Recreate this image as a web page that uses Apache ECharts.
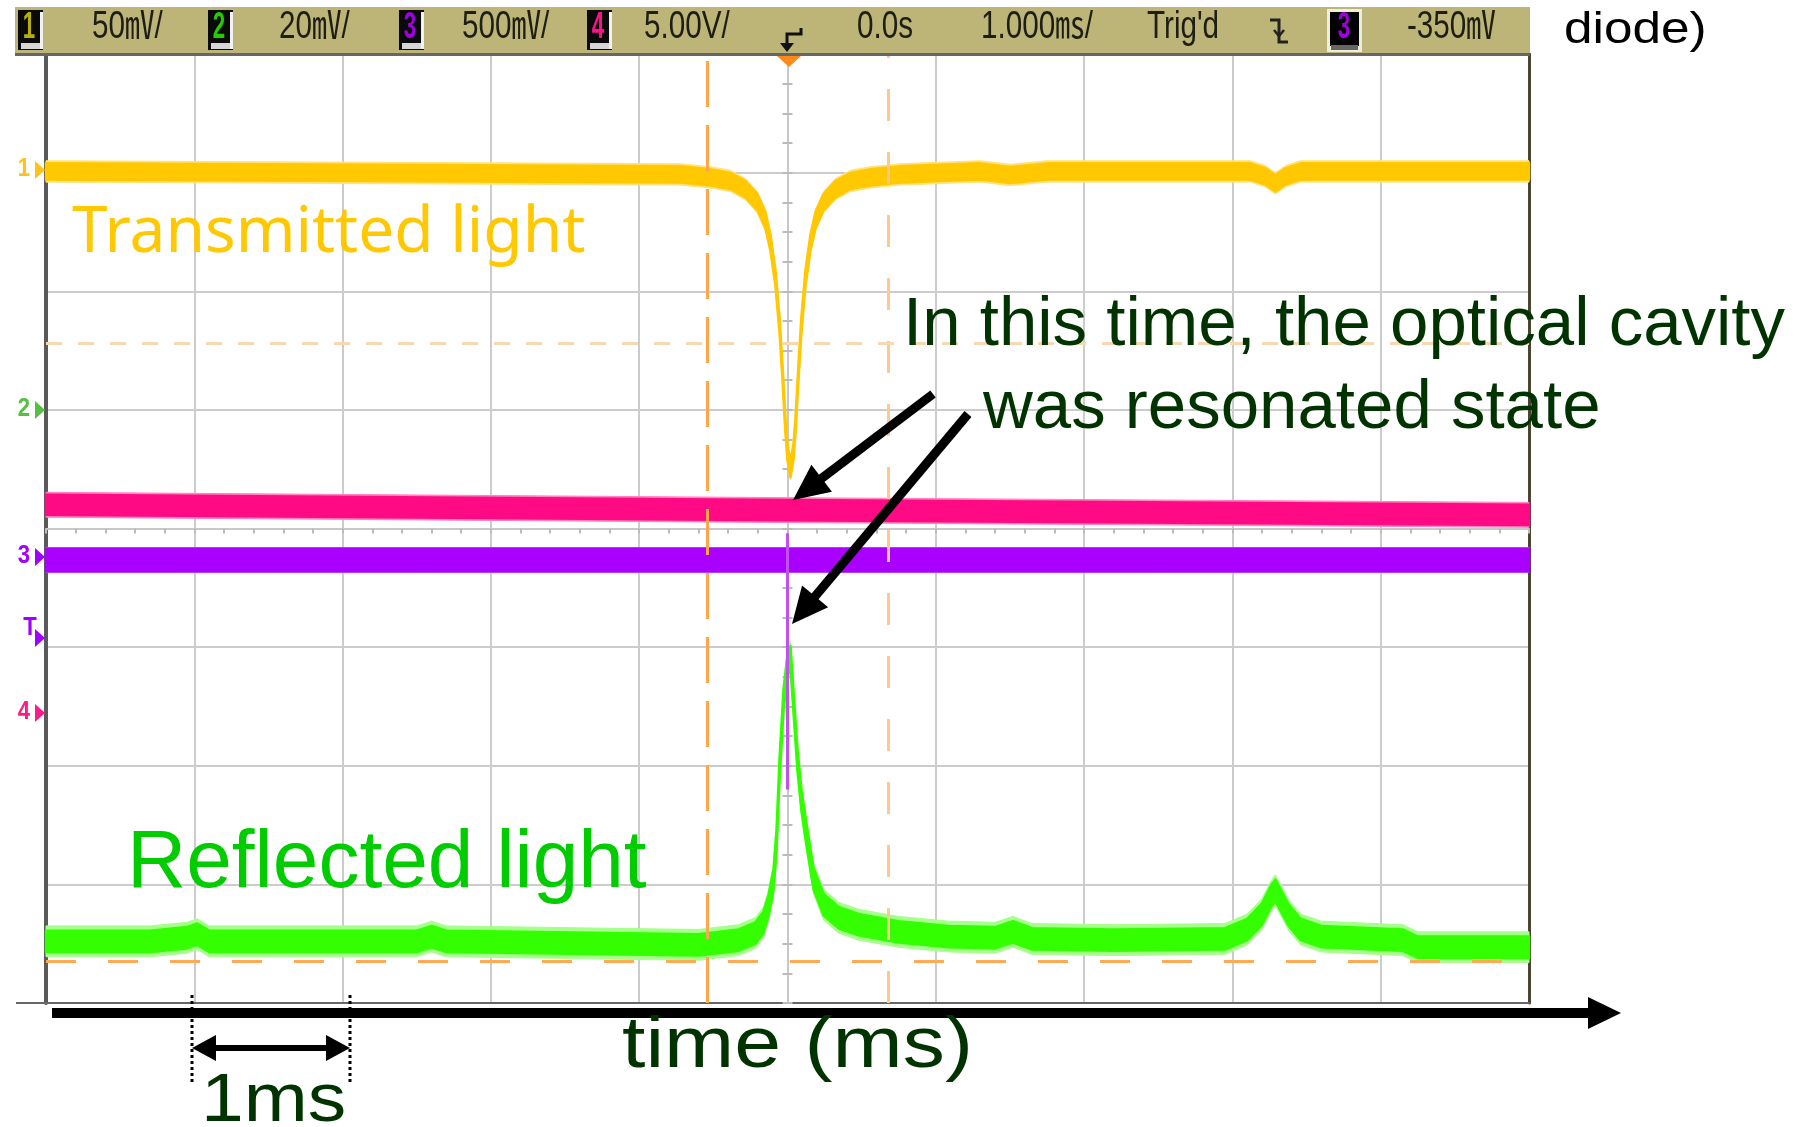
<!DOCTYPE html>
<html><head><meta charset="utf-8">
<script src="https://cdn.jsdelivr.net/npm/echarts@6/dist/echarts.min.js"></script>
<style>html,body{margin:0;padding:0;background:#fff}#c{width:1809px;height:1127px}</style>
</head><body><div id="c"></div>
<script>
// ---------------- data (time in ms, level in screen divisions) ----------------
const ch1Time = [-5, -0.72, -0.52, -0.385, -0.283, -0.203, -0.149, -0.115, -0.081, -0.054, -0.034, -0.014, 0, 0.02,
  0.04, 0.054, 0.074, 0.094, 0.121, 0.155, 0.189, 0.243, 0.323, 0.425, 0.56, 0.76,
  1.3, 1.5, 1.75, 3.12, 3.22, 3.29, 3.36, 3.46, 5];
const ch1Level = [3.01, 2.985, 2.96, 2.93, 2.86, 2.75, 2.60, 2.41, 2.11, 1.72, 1.32, 0.87, 0.64, 0.50,
  0.64, 0.87, 1.32, 1.72, 2.11, 2.41, 2.60, 2.75, 2.86, 2.93, 2.96, 2.985,
  3.01, 2.98, 3.01, 3.01, 2.97, 2.91, 2.97, 3.01, 3.01];

const ch2Time = [-5, -4.3, -4.05, -3.98, -3.9, -2.5, -2.4, -2.3, -1.2, -0.6, -0.33, -0.216, -0.162, -0.128, -0.094,
  -0.074, -0.054, -0.027, 0.0, 0.02, 0.04, 0.067, 0.094, 0.128, 0.175, 0.243, 0.344, 0.479, 0.749, 1.086,
  1.4, 1.52, 1.65, 2.2, 2.95, 3.1, 3.2, 3.26, 3.29, 3.32, 3.38, 3.46, 3.6, 4.15, 4.25, 5];
const ch2Level = [-3.48, -3.48, -3.45, -3.42, -3.48, -3.48, -3.44, -3.48, -3.50, -3.51, -3.47, -3.41, -3.32, -3.18, -2.96,
  -2.63, -2.04, -1.45, -1.15, -1.08, -1.45, -1.95, -2.29, -2.58, -2.95, -3.17, -3.28, -3.34, -3.40, -3.44,
  -3.45, -3.40, -3.46, -3.47, -3.46, -3.38, -3.25, -3.10, -3.05, -3.12, -3.26, -3.38, -3.44, -3.47, -3.53, -3.53];

const ch3Time = [-5, 5];
const ch3Level = [-0.265, -0.265];
const ch3SpikeTime = [0, 0];
const ch3SpikeLevel = [-0.04, -2.2];

const ch4Time = [-5, 0, 5];
const ch4Level = [0.20, 0.155, 0.115];

const noiseHalf = {ch1: [0.068, 0.09], ch2: [0.09, 0.13], ch3: [0.095, 0.105], ch4: [0.085, 0.105]};

const cursorTimes = [-0.537, 0.676];
const cursorLevels = [1.564, -3.647];

const statusLabels = ['50㎷/', '20㎷/', '500㎷/', '5.00V/', '0.0s', '1.000㎳/', "Trig'd", '-350㎷'];
const channelLabels = ['1', '2', '3', '4'];
const markerLabels = ['1', '2', '3', 'T', '4'];

// ---------------- helpers ----------------
const chart = echarts.init(document.getElementById('c'), null, {renderer: 'canvas'});

function bandRender(T, V, half, coreColor, fringeColor) {
  return function (params, api) {
    if (params.dataIndex !== 0) return null;
    const poly = (h) => T.map((t, i) => api.coord([t, V[i] + h]))
      .concat(T.map((t, i) => api.coord([t, V[i] - h])).reverse());
    return {
      type: 'group',
      children: [
        {type: 'polygon', shape: {points: poly(half[1])}, style: {fill: fringeColor, stroke: fringeColor, lineWidth: 1}},
        {type: 'polygon', shape: {points: poly(half[0])}, style: {fill: coreColor, stroke: coreColor, lineWidth: 2.5, lineJoin: 'round'}}
      ]
    };
  };
}
function band(name, T, V, half, core, fringe, z) {
  return {
    type: 'custom', name, z, xAxisIndex: 0, yAxisIndex: 0,
    data: T.map((t, i) => [t, V[i]]), encode: {x: 0, y: 1},
    renderItem: bandRender(T, V, half, core, fringe), silent: true
  };
}

const AR = '"Liberation Sans", Arial, "Noto Sans CJK SC", sans-serif';
function txt(s, x, y, font, fill, scaleX, align) {
  return {type: 'text', x, y, scaleX: scaleX || 1, z: 100,
    style: {text: s, x: 0, y: 0, font, fill, align: align || 'left', textAlign: align || 'left',
      verticalAlign: 'middle', textVerticalAlign: 'middle'}};
}
function arrow(x1, y1, x2, y2, w, hl, hh) {
  const dx = x2 - x1, dy = y2 - y1, L = Math.hypot(dx, dy), ux = dx / L, uy = dy / L;
  const bx = x2 - ux * hl, by = y2 - uy * hl;
  return [
    {type: 'line', z: 100, shape: {x1, y1, x2: bx + ux * 3, y2: by + uy * 3}, style: {stroke: '#000', lineWidth: w}},
    {type: 'polygon', z: 100, shape: {points: [[x2, y2], [bx - uy * hh, by + ux * hh], [bx + uy * hh, by - ux * hh]]}, style: {fill: '#000'}}
  ];
}

// ---------------- graphics (status bar, annotations) ----------------
const g = [];
g.push({type: 'rect', z: 100, shape: {x: 15, y: 7, width: 1515, height: 47}, style: {fill: '#BDB477'}});
g.push({type: 'rect', z: 100, shape: {x: 15, y: 53, width: 1515, height: 3}, style: {fill: '#666'}});
const boxX = [18, 208, 399, 587];
const boxColors = ['#B8B000', '#22CC00', '#A000E0', '#FF1088'];
channelLabels.forEach((c, i) => {
  const x = boxX[i];
  g.push({type: 'rect', z: 100, shape: {x, y: 10, width: 25, height: 40}, style: {fill: '#0a0a0a'}});
  g.push({type: 'rect', z: 100, shape: {x: x + 22, y: 12, width: 3, height: 37}, style: {fill: '#f2f2f2'}});
  g.push({type: 'rect', z: 100, shape: {x: x + 3, y: 43, width: 19, height: 6}, style: {fill: '#d6d6d6'}});
  g.push(txt(c, x + 11, 28, 'bold 36px ' + AR, boxColors[i], 0.62, 'center'));
});
g.push({type: 'rect', z: 100, shape: {x: 1327, y: 9, width: 35, height: 43}, style: {fill: '#eeeedd'}});
g.push({type: 'rect', z: 100, shape: {x: 1330, y: 12, width: 29, height: 34}, style: {fill: '#000'}});
g.push({type: 'rect', z: 100, shape: {x: 1331, y: 45, width: 27, height: 5}, style: {fill: '#666'}});
g.push(txt(channelLabels[2], 1344, 28, 'bold 36px ' + AR, '#A000E0', 0.62, 'center'));
const statusX = [92, 279, 462, 644, 857, 981, 1147, 1407];
statusLabels.forEach((s, i) => g.push(txt(s, statusX[i], 28, '38px ' + AR, '#1e1e14', 0.78)));
// trigger symbol & marker
g.push({type: 'polyline', z: 100, shape: {points: [[801, 28], [801, 34], [787, 34], [787, 46]]}, style: {stroke: '#111', lineWidth: 3, fill: null}});
g.push({type: 'polygon', z: 100, shape: {points: [[780, 43], [794, 43], [787, 52]]}, style: {fill: '#111'}});
g.push({type: 'polygon', z: 100, shape: {points: [[777, 56], [801, 56], [789, 67]]}, style: {fill: '#FF8A1A'}});
// slope symbol
g.push({type: 'polyline', z: 100, shape: {points: [[1270, 20], [1279, 20], [1279, 42], [1288, 42]]}, style: {stroke: '#222', lineWidth: 3, fill: null}});
g.push({type: 'polyline', z: 100, shape: {points: [[1274, 30], [1279, 36], [1284, 30]]}, style: {stroke: '#222', lineWidth: 2.5, fill: null}});
g.push(txt('diode)', 1564, 31, '45px ' + AR, '#000', 1.14));

// channel markers on the left edge
const markerY = [170, 410, 557, 638, 713];
const markerCol = ['#FFC21A', '#55C044', '#A000FF', '#A000FF', '#FF1A8C'];
markerLabels.forEach((m, i) => {
  const y = markerY[i];
  g.push(txt(m, m === 'T' ? 30 : 24, m === 'T' ? y - 10 : y - 1, 'bold 26px ' + AR, markerCol[i], 0.85, 'center'));
  g.push({type: 'polygon', z: 100, shape: {points: [[35, y - 9], [45, y], [35, y + 9]]}, style: {fill: markerCol[i]}});
});

// annotations
g.push(txt('Transmitted light', 72, 234, '64px "Noto Sans", sans-serif', '#FFC800'));
g.push(txt('In this time, the optical cavity', 903, 326, '69px ' + AR, '#003300'));
g.push(txt('was resonated state', 983, 409, '69px ' + AR, '#003300'));
g.push(txt('Reflected light', 127, 864, '82px ' + AR, '#00CC00'));
g.push(...arrow(933, 394, 793, 500, 9, 36, 17));
g.push(...arrow(968, 414, 792, 624, 9, 36, 17));
// time axis arrow
g.push({type: 'rect', z: 100, shape: {x: 16, y: 1002, width: 32, height: 2}, style: {fill: '#666'}});
g.push({type: 'rect', z: 100, shape: {x: 52, y: 1008, width: 1540, height: 10}, style: {fill: '#000'}});
g.push({type: 'polygon', z: 100, shape: {points: [[1588, 997], [1621, 1013], [1588, 1029]]}, style: {fill: '#000'}});
g.push(txt('time (ms)', 622, 1047, '72px ' + AR, '#003300', 1.17));
// 1 ms scale marker
[192, 350].forEach(x => g.push({type: 'line', z: 100, shape: {x1: x, y1: 995, x2: x, y2: 1083}, style: {stroke: '#000', lineWidth: 3, lineDash: [3, 3]}}));
g.push({type: 'line', z: 100, shape: {x1: 210, y1: 1048, x2: 332, y2: 1048}, style: {stroke: '#000', lineWidth: 6}});
g.push({type: 'polygon', z: 100, shape: {points: [[192, 1048], [216, 1035], [216, 1061]]}, style: {fill: '#000'}});
g.push({type: 'polygon', z: 100, shape: {points: [[350, 1048], [326, 1035], [326, 1061]]}, style: {fill: '#000'}});
g.push(txt('1ms', 201, 1102, '68px ' + AR, '#003300', 1.13));

// ---------------- option ----------------
const hidden = {axisLabel: {show: false}, axisTick: {show: false}, splitLine: {show: false}};
const option = {
  animation: false,
  backgroundColor: '#fff',
  grid: {left: 46, top: 54, width: 1483, height: 949, show: false},
  xAxis: [
    {type: 'value', min: -5, max: 5, interval: 1, position: 'bottom',
      axisLine: {show: true, onZero: false, lineStyle: {color: '#666', width: 2}},
      axisTick: {show: false}, axisLabel: {show: false},
      splitLine: {show: true, lineStyle: {color: '#CCCCCC', width: 2}}},
    {type: 'value', min: -5, max: 5, interval: 1, position: 'top',
      axisLine: {show: true, onZero: true, onZeroAxisIndex: 0, lineStyle: {color: '#C8C8C8', width: 2}},
      axisTick: {show: true, inside: true, length: 5, lineStyle: {color: '#BBB', width: 2}},
      minorTick: {show: true, splitNumber: 5, length: 5, lineStyle: {color: '#BBB', width: 2}},
      axisLabel: {show: false}, splitLine: {show: false}}
  ],
  yAxis: [
    {type: 'value', min: -4, max: 4, interval: 1, position: 'left',
      axisLine: {show: true, onZero: false, lineStyle: {color: '#5a5a5a', width: 4}},
      axisTick: {show: false}, axisLabel: {show: false},
      splitLine: {show: true, lineStyle: {color: '#CCCCCC', width: 2}}},
    Object.assign({type: 'value', min: -4, max: 4, interval: 1, position: 'right',
      axisLine: {show: true, onZero: false, lineStyle: {color: '#4A4530', width: 3}}}, hidden),
    {type: 'value', min: -4, max: 4, interval: 1, position: 'left',
      axisLine: {show: true, onZero: true, onZeroAxisIndex: 0, lineStyle: {color: '#C8C8C8', width: 2}},
      axisTick: {show: true, inside: true, length: 5, lineStyle: {color: '#BBB', width: 2}},
      minorTick: {show: true, splitNumber: 4, length: 5, lineStyle: {color: '#BBB', width: 2}},
      axisLabel: {show: false}, splitLine: {show: false}},
    {type: 'value', min: -4, max: 4, interval: 1, position: 'left',
      axisLine: {show: false, onZero: true, onZeroAxisIndex: 0},
      axisTick: {show: true, inside: false, length: 5, lineStyle: {color: '#BBB', width: 2}},
      minorTick: {show: true, splitNumber: 4, length: 5, lineStyle: {color: '#BBB', width: 2}},
      axisLabel: {show: false}, splitLine: {show: false}}
  ],
  series: [
    band('ch1', ch1Time, ch1Level, noiseHalf.ch1, '#FFC800', '#FFE27A', 3),
    band('ch4', ch4Time, ch4Level, noiseHalf.ch4, '#FF0A85', '#FF80BF', 3),
    band('ch3', ch3Time, ch3Level, noiseHalf.ch3, '#AA00FF', '#C870FF', 3),
    band('ch2', ch2Time, ch2Level, noiseHalf.ch2, '#33FF00', '#A6FF8C', 4),
    {type: 'line', name: 'ch3spike', z: 5, xAxisIndex: 0, yAxisIndex: 0, symbol: 'none', silent: true,
      data: ch3SpikeTime.map((t, i) => [t, ch3SpikeLevel[i]]),
      lineStyle: {color: '#C050F0', width: 3},
      markLine: {silent: true, symbol: 'none', label: {show: false}, z: 6, animation: false,
        data: [
          {xAxis: cursorTimes[0], lineStyle: {color: '#FFA64D', width: 3, type: [46, 18]}},
          {xAxis: cursorTimes[1], lineStyle: {color: '#FFC890', width: 3, type: [32, 31]}},
          {yAxis: cursorLevels[0], lineStyle: {color: '#F8D8B0', width: 3, type: [16, 16]}},
          {yAxis: cursorLevels[1], lineStyle: {color: '#FFAA55', width: 3, type: [30, 32]}}
        ]}}
  ],
  graphic: {elements: g}
};
chart.setOption(option);
</script>
</body></html>
